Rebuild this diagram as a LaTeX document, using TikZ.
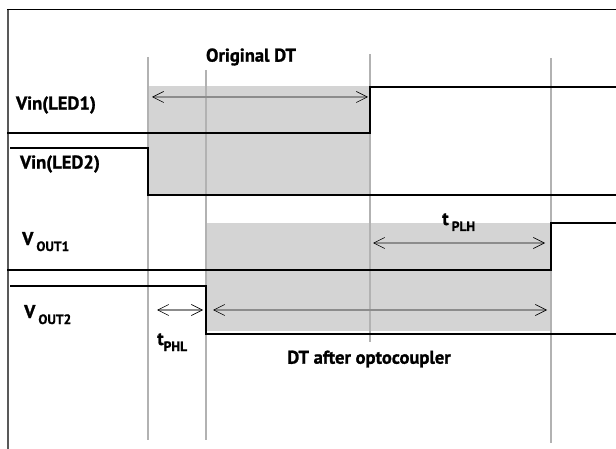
\documentclass[tikz,border=0pt]{standalone}
\usepackage{fontspec}
\setmainfont{PT Sans}[BoldFeatures={FakeBold=1.2}]
\usetikzlibrary{arrows.meta,positioning}
\newcommand{\lowsub}[1]{\raisebox{-6pt}{\fontsize{13.5}{14}\selectfont #1}}

\begin{document}
\begin{tikzpicture}[x=1pt,y=-1pt,>={Straight Barb[length=11pt,width=11pt,black,line width=0.6pt]},
sig/.style={line width=2pt,black},
guide/.style={line width=1.3pt,black!30},
dt arrow/.style={<->,line width=1.3pt,black!45},
shade/.style={fill=black!17},
lbl/.style={font=\bfseries\fontsize{18.5}{20}\selectfont,inner sep=0pt}]

\useasboundingbox (0,0) rectangle (616,449);

% frame
\draw[line width=2pt,black!65] (7.5,9) -- (7.5,449);
\draw[line width=1.6pt] (7,9.5) -- (616,9.5);

% dead time windows
\fill[shade] (148,86) rectangle (370,195);
\fill[shade] (206,223) rectangle (551,331);

% time marks
\coordinate (g1t) at (148,57);  \coordinate (g1b) at (148,440);
\coordinate (g2t) at (206,70);  \coordinate (g2b) at (206,440);
\coordinate (g3t) at (370,54);  \coordinate (g3b) at (370,342);
\coordinate (g4t) at (551,58);  \coordinate (g4b) at (551,443);
\foreach \g in {1,2,3,4}
  \draw[guide] (g\g t) -- (g\g b);

% signals
\draw[sig] (7,133) -- (370,133) -- (370,87) -- (616,87);
\draw[sig] (10,148) -- (148,148) -- (148,195) -- (616,195);
\draw[sig] (7,270) -- (551,270) -- (551,223) -- (616,223);
\draw[sig] (10,286) -- (206,286) -- (206,334) -- (616,334);

% arrows
\coordinate (o1) at (148,97);  \coordinate (o2) at (370,97);
\coordinate (h1) at (370,243); \coordinate (h2) at (551,243);
\coordinate (a1) at (148,310); \coordinate (a2) at (206,310);
\coordinate (a3) at (551,310);
\draw[dt arrow,shorten <=4pt,shorten >=2pt] (o1) -- (o2);
\draw[dt arrow,shorten <=3pt,shorten >=6pt] (h1) -- (h2);
\draw[dt arrow,shorten <=9pt,shorten >=3pt] (a1) -- (a2);
\draw[dt arrow,shorten <=7pt,shorten >=4pt] (a2) -- (a3);

% labels
\node[lbl] (orig) at (251,57) {Original DT};
\node[lbl] (led1) at (56,105) {Vin(LED1)};
\node[lbl] (led2) at (60,164) {Vin(LED2)};
\node[lbl,anchor=base west] (out1) at (22,245) {V\,\lowsub{OUT1}};
\node[lbl,anchor=base west] (out2) at (24,318) {V\,\lowsub{OUT2}};
\node[lbl,anchor=base west] (tphl) at (157,345) {t\lowsub{PHL}};
\node[lbl,anchor=base west] (tplh) at (442,225) {t\,\lowsub{PLH}};
\node[lbl] (after) at (369,359) {DT after optocoupler};
\end{tikzpicture}
\end{document}
